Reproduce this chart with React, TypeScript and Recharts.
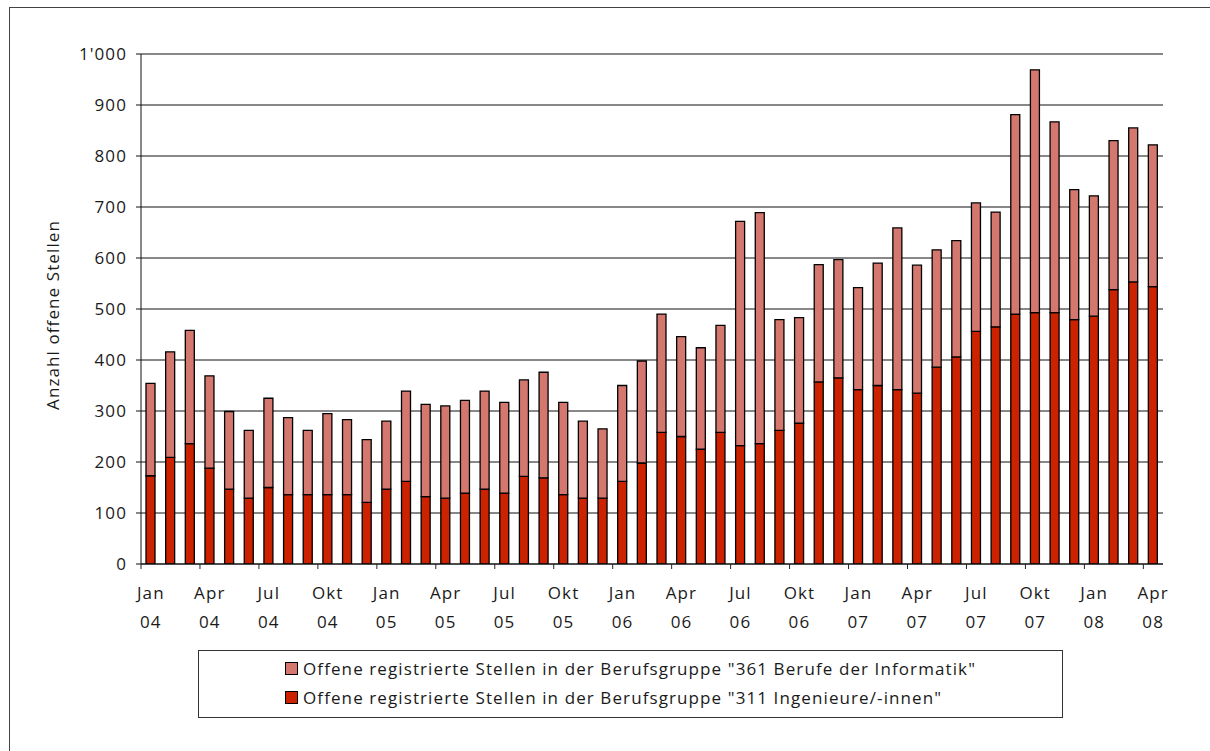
import { BarChart, Bar, XAxis, YAxis, CartesianGrid, Legend, Label } from 'recharts'

const categories = [
  'Jan 04', 'Feb 04', 'Mär 04', 'Apr 04', 'Mai 04', 'Jun 04', 'Jul 04', 'Aug 04', 'Sep 04', 'Okt 04', 'Nov 04', 'Dez 04',
  'Jan 05', 'Feb 05', 'Mär 05', 'Apr 05', 'Mai 05', 'Jun 05', 'Jul 05', 'Aug 05', 'Sep 05', 'Okt 05', 'Nov 05', 'Dez 05',
  'Jan 06', 'Feb 06', 'Mär 06', 'Apr 06', 'Mai 06', 'Jun 06', 'Jul 06', 'Aug 06', 'Sep 06', 'Okt 06', 'Nov 06', 'Dez 06',
  'Jan 07', 'Feb 07', 'Mär 07', 'Apr 07', 'Mai 07', 'Jun 07', 'Jul 07', 'Aug 07', 'Sep 07', 'Okt 07', 'Nov 07', 'Dez 07',
  'Jan 08', 'Feb 08', 'Mär 08', 'Apr 08',
]

// 311 Ingenieure/-innen (bottom, dark red)
const ingenieure = [
  173, 209, 236, 188, 147, 129, 150, 136, 136, 136, 136, 121,
  147, 162, 132, 129, 139, 147, 139, 172, 169, 136, 129, 129,
  162, 198, 258, 250, 225, 258, 232, 236, 262, 276, 357, 365,
  342, 350, 342, 335, 386, 406, 456, 465, 490, 493, 493, 479,
  486, 538, 553, 544,
]

// 361 Berufe der Informatik (stacked on top, light red)
const informatik = [
  181, 207, 222, 181, 152, 133, 175, 151, 126, 159, 147, 123,
  133, 177, 181, 181, 182, 192, 178, 189, 207, 181, 151, 136,
  188, 200, 232, 196, 199, 210, 440, 453, 217, 207, 230, 232,
  200, 240, 317, 251, 230, 228, 252, 225, 391, 476, 374, 255,
  236, 292, 302, 278,
]

const yTicks = [0, 100, 200, 300, 400, 500, 600, 700, 800, 900, 1000]

const legendLabels = [
  'Offene registrierte Stellen in der Berufsgruppe "361 Berufe der Informatik"',
  'Offene registrierte Stellen in der Berufsgruppe "311 Ingenieure/-innen"',
]

const COLOR_INF = '#d4786f'
const COLOR_ING = '#cc2200'
const FONT = '"Open Sans", "DejaVu Sans", sans-serif'
const TEXT = '#1a1a1a'
const FS = 17
const LS = 1.1

const data = categories.map((month, i) => ({
  month,
  ingenieure: ingenieure[i],
  informatik: informatik[i],
}))

const PLOT_LEFT = 141
const PLOT_RIGHT = 1163
const BAND = (PLOT_RIGHT - PLOT_LEFT) / categories.length

function MonthTick(props: any) {
  const { x, y, payload } = props
  const i = payload.index
  if (i % 3 !== 0) return <g />
  const [m, yr] = String(payload.value).split(' ')
  const tx = x - BAND / 2
  const textProps = { textAnchor: 'middle' as const, fontSize: FS, fill: TEXT, fontFamily: FONT, letterSpacing: LS }
  return (
    <g>
      <line x1={tx} x2={tx} y1={y} y2={y + 5} stroke="#222" strokeWidth={1} />
      <text x={x} y={y + 35} {...textProps}>
        {m}
      </text>
      <text x={x} y={y + 64} {...textProps}>
        {yr}
      </text>
    </g>
  )
}

function LegendBox() {
  const colors = [COLOR_INF, COLOR_ING]
  return (
    <div
      style={{
        boxSizing: 'border-box',
        width: '100%',
        height: '100%',
        border: '1px solid #333',
        background: '#fff',
        padding: '3px 0 0 86px',
        fontFamily: FONT,
        fontSize: FS,
        letterSpacing: LS,
        color: TEXT,
      }}
    >
      {legendLabels.map((label, i) => (
        <div key={label} style={{ display: 'flex', alignItems: 'center', height: 29, whiteSpace: 'nowrap' }}>
          <span
            style={{
              display: 'inline-block',
              boxSizing: 'border-box',
              width: 13,
              height: 13,
              background: colors[i],
              border: '1.5px solid #000',
              marginRight: 5,
            }}
          />
          <span>{label}</span>
        </div>
      ))}
    </div>
  )
}

export default function App() {
  return (
    <div style={{ position: 'absolute', left: 0, top: 0, width: 1210, height: 751, background: '#fff', overflow: 'hidden' }}>
      <div
        style={{
          position: 'absolute',
          left: 9,
          top: 7,
          width: 1210,
          height: 751,
          borderTop: '1.5px solid #444',
          borderLeft: '1.5px solid #444',
        }}
      />
      <BarChart
        width={1210}
        height={751}
        data={data}
        margin={{ top: 54, right: 1210 - PLOT_RIGHT, left: 0, bottom: 127 }}
        barSize={9}
        style={{ position: 'absolute', left: 0, top: 0 }}
      >
        <CartesianGrid vertical={false} stroke="#111" strokeWidth={1} />
        <XAxis
          dataKey="month"
          interval={0}
          tick={<MonthTick />}
          tickLine={false}
          tickSize={0}
          tickMargin={0}
          height={60}
          axisLine={{ stroke: '#111' }}
        />
        <YAxis
          width={PLOT_LEFT}
          domain={[0, 1000]}
          ticks={yTicks}
          allowDataOverflow
          tickSize={5}
          tickMargin={9}
          tickLine={{ stroke: '#111' }}
          axisLine={{ stroke: '#111' }}
          tick={{ fill: TEXT, fontSize: FS, fontFamily: FONT, letterSpacing: LS }}
          tickFormatter={(v: number) => (v >= 1000 ? `${Math.floor(v / 1000)}'${String(v % 1000).padStart(3, '0')}` : String(v))}
        >
          <Label
            value="Anzahl offene Stellen"
            angle={-90}
            position="insideLeft"
            offset={53}
            dy={6}
            style={{ textAnchor: 'middle', fill: TEXT, fontSize: FS, fontFamily: FONT, letterSpacing: LS }}
          />
        </YAxis>
        <Legend
          layout="vertical"
          align="center"
          verticalAlign="middle"
          wrapperStyle={{ position: 'absolute', left: 198, top: 650, width: 865, height: 68 }}
          content={() => <LegendBox />}
        />
        <Bar dataKey="ingenieure" stackId="a" fill={COLOR_ING} stroke="#000" strokeWidth={1.3} isAnimationActive={false} />
        <Bar dataKey="informatik" stackId="a" fill={COLOR_INF} stroke="#000" strokeWidth={1.3} isAnimationActive={false} />
      </BarChart>
    </div>
  )
}
